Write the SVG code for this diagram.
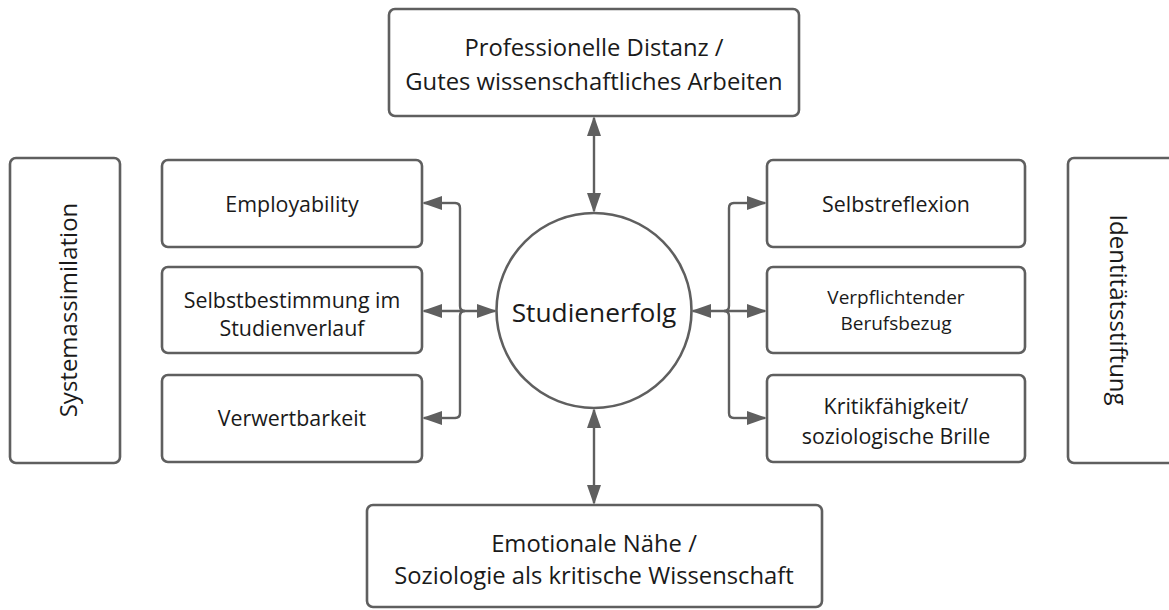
<svg xmlns="http://www.w3.org/2000/svg" width="1169" height="610" viewBox="0 0 1169 610">
<style>
.box{fill:#ffffff;stroke:#5f5f5f;stroke-width:2.6}
.t{font-family:"Open Sans","Liberation Sans",sans-serif;fill:#1a1a1a;text-anchor:middle}
.c{fill:none;stroke:#5f5f5f;stroke-width:2.4}
</style>
<defs>
<marker id="ah" markerUnits="userSpaceOnUse" markerWidth="22" markerHeight="14" viewBox="0 0 20 14" refX="18" refY="7" orient="auto-start-reverse">
<path d="M0,0 L20,7 L0,14 z" fill="#5f5f5f"/>
</marker>
</defs>
<rect width="1169" height="610" fill="#ffffff"/>
<g id="connectors">
<line class="c" x1="594" y1="118" x2="594" y2="211" marker-start="url(#ah)" marker-end="url(#ah)"/>
<line class="c" x1="594" y1="410" x2="594" y2="503" marker-start="url(#ah)" marker-end="url(#ah)"/>
<line class="c" x1="424" y1="311" x2="495" y2="311" marker-start="url(#ah)" marker-end="url(#ah)"/>
<path class="c" d="M 455 203 Q 460 203 460 208 V 306 Q 460 311 465 311 M 465 311 Q 460 311 460 316 V 413 Q 460 418 455 418"/>
<line class="c" x1="455" y1="203" x2="424" y2="203" marker-end="url(#ah)"/>
<line class="c" x1="455" y1="418" x2="424" y2="418" marker-end="url(#ah)"/>
<line class="c" x1="693" y1="311" x2="765" y2="311" marker-start="url(#ah)" marker-end="url(#ah)"/>
<path class="c" d="M 734 203 Q 729 203 729 208 V 306 Q 729 311 724 311 M 724 311 Q 729 311 729 316 V 413 Q 729 418 734 418"/>
<line class="c" x1="734" y1="203" x2="765" y2="203" marker-end="url(#ah)"/>
<line class="c" x1="734" y1="418" x2="765" y2="418" marker-end="url(#ah)"/>
</g>
<g id="top">
<rect class="box" x="389" y="9" width="410" height="107" rx="6"/>
<text class="t" x="594" y="56" font-size="23.8">Professionelle Distanz /</text>
<text class="t" x="594" y="90" font-size="23.8">Gutes wissenschaftliches Arbeiten</text>
</g>
<g id="center">
<circle class="box" cx="594" cy="310.5" r="97.5"/>
<text class="t" x="594" y="321.5" font-size="26.3">Studienerfolg</text>
</g>
<g id="bottom">
<rect class="box" x="367" y="505" width="455" height="102" rx="6"/>
<text class="t" x="594" y="551.5" font-size="23.8">Emotionale Nähe /</text>
<text class="t" x="594" y="583.5" font-size="23.8">Soziologie als kritische Wissenschaft</text>
</g>
<g id="systemassimilation">
<rect class="box" x="10" y="158" width="110" height="305" rx="6"/>
<text class="t" font-size="24" transform="translate(77 310) rotate(-90)">Systemassimilation</text>
</g>
<g id="identitaetsstiftung">
<rect class="box" x="1068" y="158" width="115" height="305" rx="6"/>
<text class="t" font-size="24" transform="translate(1110 310) rotate(90)">Identitätsstiftung</text>
</g>
<g id="employability">
<rect class="box" x="162" y="160" width="260" height="87" rx="6"/>
<text class="t" x="292" y="211.5" font-size="21.4">Employability</text>
</g>
<g id="selbstbestimmung">
<rect class="box" x="162" y="267" width="260" height="86" rx="6"/>
<text class="t" x="292" y="308" font-size="21.4">Selbstbestimmung im</text>
<text class="t" x="292" y="336" font-size="21.4">Studienverlauf</text>
</g>
<g id="verwertbarkeit">
<rect class="box" x="162" y="375" width="260" height="87" rx="6"/>
<text class="t" x="292" y="426" font-size="21.4">Verwertbarkeit</text>
</g>
<g id="selbstreflexion">
<rect class="box" x="767" y="160" width="258" height="87" rx="6"/>
<text class="t" x="896" y="211.5" font-size="21.4">Selbstreflexion</text>
</g>
<g id="berufsbezug">
<rect class="box" x="767" y="267" width="258" height="86" rx="6"/>
<text class="t" x="896" y="303.5" font-size="19">Verpflichtender</text>
<text class="t" x="896" y="330" font-size="19">Berufsbezug</text>
</g>
<g id="kritikfaehigkeit">
<rect class="box" x="767" y="375" width="258" height="87" rx="6"/>
<text class="t" x="896" y="413.5" font-size="21.4">Kritikfähigkeit/</text>
<text class="t" x="896" y="443.5" font-size="21.4">soziologische Brille</text>
</g>
</svg>
